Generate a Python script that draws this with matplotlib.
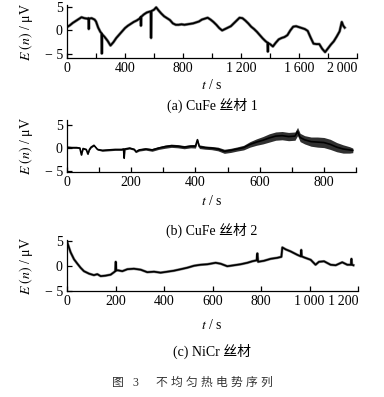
# Non-uniform thermo-EMF sequences (3 wires), re-drawn from the figure
import matplotlib
matplotlib.use("Agg")
import numpy as np
import matplotlib.pyplot as plt

plt.rcParams["font.family"] = ["Liberation Serif", "Noto Sans CJK SC"]
plt.rcParams["mathtext.fontset"] = "stix"

W, H = 384, 397

# (a) CuFe wire 1
t1 = [0, 20, 40, 60, 80, 100, 120, 140, 148, 150, 152, 170, 190, 200, 215, 230, 238, 240, 242,
      260, 280, 300, 320, 340, 360, 380, 400, 420, 440, 460, 480, 500, 508, 510, 512, 530, 550,
      570, 578, 580, 582, 600, 615, 630, 650, 670, 690, 710, 730, 750, 770, 790, 810, 830, 850,
      870, 890, 910, 930, 950, 970, 990, 1010, 1030, 1050, 1070, 1090, 1110, 1130, 1150, 1170,
      1190, 1210, 1230, 1250, 1270, 1290, 1310, 1330, 1350, 1370, 1383, 1385, 1387, 1400, 1420,
      1440, 1460, 1480, 1500, 1520, 1540, 1560, 1580, 1600, 1620, 1640, 1660, 1680, 1700, 1720,
      1740, 1760, 1780, 1800, 1820, 1840, 1860, 1880, 1895, 1905, 1915]
e1 = [0.7, 1.1, 1.6, 2.0, 2.4, 2.8, 2.6, 2.5, 2.6, 0.3, 2.5, 2.6, 2.3, 1.9, 0.6, -0.3, -0.6, -4.9, -0.8,
      -1.4, -2.2, -3.2, -2.5, -1.6, -0.9, -0.2, 0.5, 1.0, 1.4, 1.8, 2.1, 2.5, 2.8, 1.0, 2.9, 3.4, 3.8,
      4.0, 4.0, -1.6, 4.1, 4.4, 4.9, 4.3, 3.6, 3.0, 2.6, 2.2, 1.5, 1.2, 1.2, 1.3, 1.2, 1.3, 1.4,
      1.5, 1.7, 1.9, 2.3, 2.5, 2.7, 2.3, 1.8, 1.2, 0.5, 0.0, 0.3, 0.6, 0.9, 1.5, 2.1,
      2.7, 2.6, 2.1, 1.5, 0.8, 0.3, -0.3, -1.0, -1.7, -2.3, -2.6, -4.5, -2.7, -2.9, -3.4,
      -2.6, -1.9, -1.6, -1.4, -1.0, 0.0, 0.8, 0.9, 0.7, 0.5, 0.3, -0.1, -1.5, -2.8, -2.9,
      -2.9, -3.9, -4.6, -3.8, -3.0, -2.3, -1.3, -0.2, 1.8, 1.0, 0.6]

# (b) CuFe wire 2, with half-width of the noise band
t2 = [0, 15, 30, 40, 45, 50, 60, 65, 70, 75, 84, 95, 110, 130, 150, 170, 176, 178, 180, 195, 210,
      214, 225, 245, 265, 285, 305, 325, 345, 365, 385, 400, 406, 412, 430, 450, 470, 490, 510,
      530, 550, 570, 590, 610, 630, 650, 670, 690, 710, 718, 726, 740, 760, 780, 800, 820, 840,
      860, 880, 890]
e2 = [0.2, 0.1, 0.1, 0.0, -1.5, -0.1, -0.3, -1.3, -0.3, 0.2, 0.6, -0.3, -0.5, -0.4, -0.3, -0.3, -0.2,
      -2.2, -0.2, 0.0, -0.3, -0.8, -0.4, -0.2, -0.4, 0.0, 0.3, 0.5, 0.4, 0.2, 0.4, 0.4, 1.8, 0.3,
      0.1, 0.0, -0.2, -0.7, -0.5, -0.2, 0.1, 0.8, 1.3, 1.7, 2.2, 2.6, 2.7, 2.5, 2.6, 3.6, 2.3, 1.8,
      1.4, 1.3, 1.2, 0.8, 0.2, -0.2, -0.4, -0.5]
w2 = [0.15, 0.15, 0.15, 0.15, 0.15, 0.15, 0.15, 0.15, 0.15, 0.15, 0.15, 0.15, 0.2, 0.2, 0.2, 0.2, 0.2,
      0.2, 0.2, 0.2, 0.2, 0.2, 0.25, 0.25, 0.3, 0.3, 0.35, 0.35, 0.35, 0.35, 0.35, 0.4, 0.4, 0.4,
      0.35, 0.35, 0.4, 0.45, 0.45, 0.45, 0.5, 0.6, 0.7, 0.8, 0.9, 0.9, 0.9, 0.9, 0.9, 0.9, 0.9, 0.9,
      1.0, 1.1, 1.1, 1.1, 1.0, 0.9, 0.7, 0.5]

# (c) NiCr wire
t3 = [0, 8, 15, 29, 43, 56, 70, 91, 111, 125, 139, 159, 180, 194, 199, 201, 203, 208, 228, 249, 276,
      304, 331, 359, 386, 414, 441, 469, 496, 524, 551, 579, 613, 634, 661, 689, 716, 744, 764, 782,
      785, 788, 812, 840, 867, 884, 888, 902, 922, 950, 964, 966, 968, 977, 1005, 1025, 1039, 1060,
      1087, 1108, 1135, 1156, 1171, 1173, 1175, 1181]
e3 = [5.0, 3.8, 2.8, 1.4, 0.5, -0.3, -1.0, -1.5, -1.8, -1.6, -2.0, -1.9, -1.7, -1.2, -1.0, 0.9, -0.9,
      -0.8, -1.0, -0.6, -0.5, -0.7, -1.2, -1.1, -1.3, -1.1, -0.9, -0.6, -0.3, 0.1, 0.3, 0.4, 0.7, 0.5,
      0.0, 0.2, 0.4, 0.7, 1.0, 1.2, 2.6, 0.9, 1.1, 1.5, 1.7, 1.9, 3.8, 3.4, 3.0, 2.3, 2.0, 3.3, 2.0,
      1.8, 1.3, 0.3, 0.9, 1.0, 0.3, 0.2, 0.8, 0.3, 0.3, 1.5, 0.3, 0.2]

captions = ["(a) CuFe 丝材 1", "(b) CuFe 丝材 2", "(c) NiCr 丝材"]
fig_title = ["图", "3", "不", "均", "匀", "热", "电", "势", "序", "列"]


def fx(px):
    return px / W


def fy(py):
    return 1 - py / H


def thou(v):
    s = f"{int(v):d}"
    if len(s) > 3:
        s = s[:-3] + "\u2009" + s[-3:]
    return s


def style_axes(ax, xmax, ticks, labelled, ylim):
    ax.set_xlim(0, xmax)
    ax.set_ylim(*ylim)
    for s in ("top", "right"):
        ax.spines[s].set_visible(False)
    for s in ("left", "bottom"):
        ax.spines[s].set_linewidth(0.9)
    ax.set_xticks(ticks)
    ax.set_xticklabels([thou(t) if t in labelled else "" for t in ticks])
    labs = ax.get_xticklabels()
    if ticks[-1] in labelled and len(thou(ticks[-1])) > 3:
        labs[-1].set_ha("right")
    ax.set_yticks([-5, 0, 5])
    ax.set_yticklabels(["\u2212 5", "0", "5"])
    ax.tick_params(direction="in", length=3.5, width=0.9, labelsize=10, pad=3)
    ax.set_ylabel(r"$E\ (n)$ / μV", fontsize=10)
    ax.yaxis.set_label_coords(-0.11, 0.5)


fig = plt.figure(figsize=(W / 100, H / 100), dpi=100)

ax1 = fig.add_axes([fx(67), fy(58), fx(290), 53 / H])
ax1.plot(t1, e1, color="#202020", lw=2.2, alpha=0.5)
ax1.plot(t1, e1, color="black", lw=1.3)
style_axes(ax1, 2000, list(range(0, 2001, 200)), list(range(0, 2001, 400)), (-5.85, 5.4))

ax2 = fig.add_axes([fx(67), fy(172), fx(289), 52 / H])
lo = np.array(e2) - np.array(w2)
hi = np.array(e2) + np.array(w2)
ax2.fill_between(t2, lo, hi, color="#303030", lw=0)
ax2.plot(t2, e2, color="black", lw=1.2)
style_axes(ax2, 900, list(range(0, 901, 100)), list(range(0, 801, 200)), (-5.2, 6.1))

ax3 = fig.add_axes([fx(67), fy(291), fx(291), 51 / H])
ax3.plot(t3, e3, color="#202020", lw=2.0, alpha=0.5)
ax3.plot(t3, e3, color="black", lw=1.2)
style_axes(ax3, 1200, list(range(0, 1201, 200)), list(range(0, 1201, 200)), (-5.0, 5.3))

# x labels and sub-captions
for yl in (85, 201, 325):
    fig.text(fx(212), fy(yl), r"$t$ / s", ha="center", va="center", fontsize=10)
for cap, yc in zip(captions, (105, 230, 351)):
    fig.text(fx(212), fy(yc), cap, ha="center", va="center", fontsize=10)

# figure caption, letter-spaced
xs = [118, 135] + [161 + 15 * i for i in range(8)]
for ch, xc in zip(fig_title, xs):
    fig.text(fx(xc), fy(383), ch, ha="center", va="center", fontsize=8.5, color="#333333",
             family=["Liberation Serif", "Noto Sans CJK SC"])

fig.savefig("out.png", dpi=100)
print("Saved: out.png")
